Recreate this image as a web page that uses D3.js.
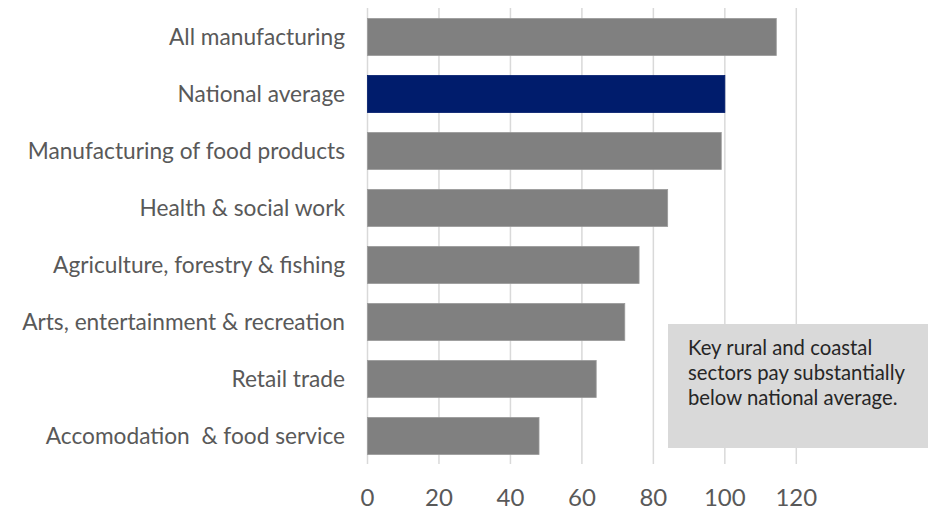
<!DOCTYPE html>
<html><head><meta charset="utf-8">
<script src="https://cdn.jsdelivr.net/npm/d3@7"></script>
<style>body{margin:0;background:#fff}svg{display:block}</style>
</head><body>
<script>
const categories = ["All manufacturing","National average","Manufacturing of food products","Health & social work","Agriculture, forestry & fishing","Arts, entertainment & recreation","Retail trade","Accomodation  & food service"];
const values = [114.4, 100, 99, 84, 76, 72, 64, 48];
const highlight = ["National average"];
const xTicks = [0,20,40,60,80,100,120];
const noteLines = ["Key rural and coastal","sectors pay substantially","below national average."];

const W = 936, H = 510;
const svg = d3.select("body").append("svg").attr("width", W).attr("height", H);
const font = "Lato, 'Open Sans', sans-serif";

const x = d3.scaleLinear().domain([0,120]).range([367.5, 796.3]);
const y = d3.scaleBand().domain(categories).range([8.5, 464.5]).paddingInner(0.35).paddingOuter(0.175);

// gridlines
svg.append("g").selectAll("line").data(xTicks).join("line")
  .attr("x1", d => x(d)).attr("x2", d => x(d))
  .attr("y1", 8).attr("y2", 464)
  .attr("stroke", "#d9d9d9").attr("stroke-width", 1.5);

// bars
svg.append("g").selectAll("rect").data(categories).join("rect")
  .attr("x", x(0)).attr("y", d => y(d))
  .attr("width", (d,i) => x(values[i]) - x(0))
  .attr("height", y.bandwidth())
  .attr("fill", d => highlight.includes(d) ? "#001c6c" : "#808080")
  .attr("stroke", d => highlight.includes(d) ? "#001c6c" : "#9a9a9a")
  .attr("stroke-width", 0.8);

// category labels
svg.append("g").selectAll("text").data(categories).join("text")
  .attr("x", 345).attr("y", d => y(d) + y.bandwidth()/2)
  .attr("dy", "0.36em").attr("text-anchor", "end")
  .attr("font-family", font).attr("font-size", 22.7).attr("fill", "#595959")
  .style("white-space", "pre")
  .text(d => d);

// x tick labels
svg.append("g").selectAll("text").data(xTicks).join("text")
  .attr("x", d => x(d)).attr("y", 506)
  .attr("text-anchor", "middle")
  .attr("font-family", font).attr("font-size", 24).attr("fill", "#595959")
  .text(d => d);

// annotation box
const box = svg.append("g");
box.append("rect").attr("x", 668).attr("y", 324).attr("width", 260).attr("height", 124).attr("fill", "#d9d9d9");
box.selectAll("text").data(noteLines).join("text")
  .attr("x", 688).attr("y", (d,i) => 355 + i*25)
  .attr("font-family", font).attr("font-size", 20.3).attr("fill", "#262626")
  .text(d => d);
</script>
</body></html>
